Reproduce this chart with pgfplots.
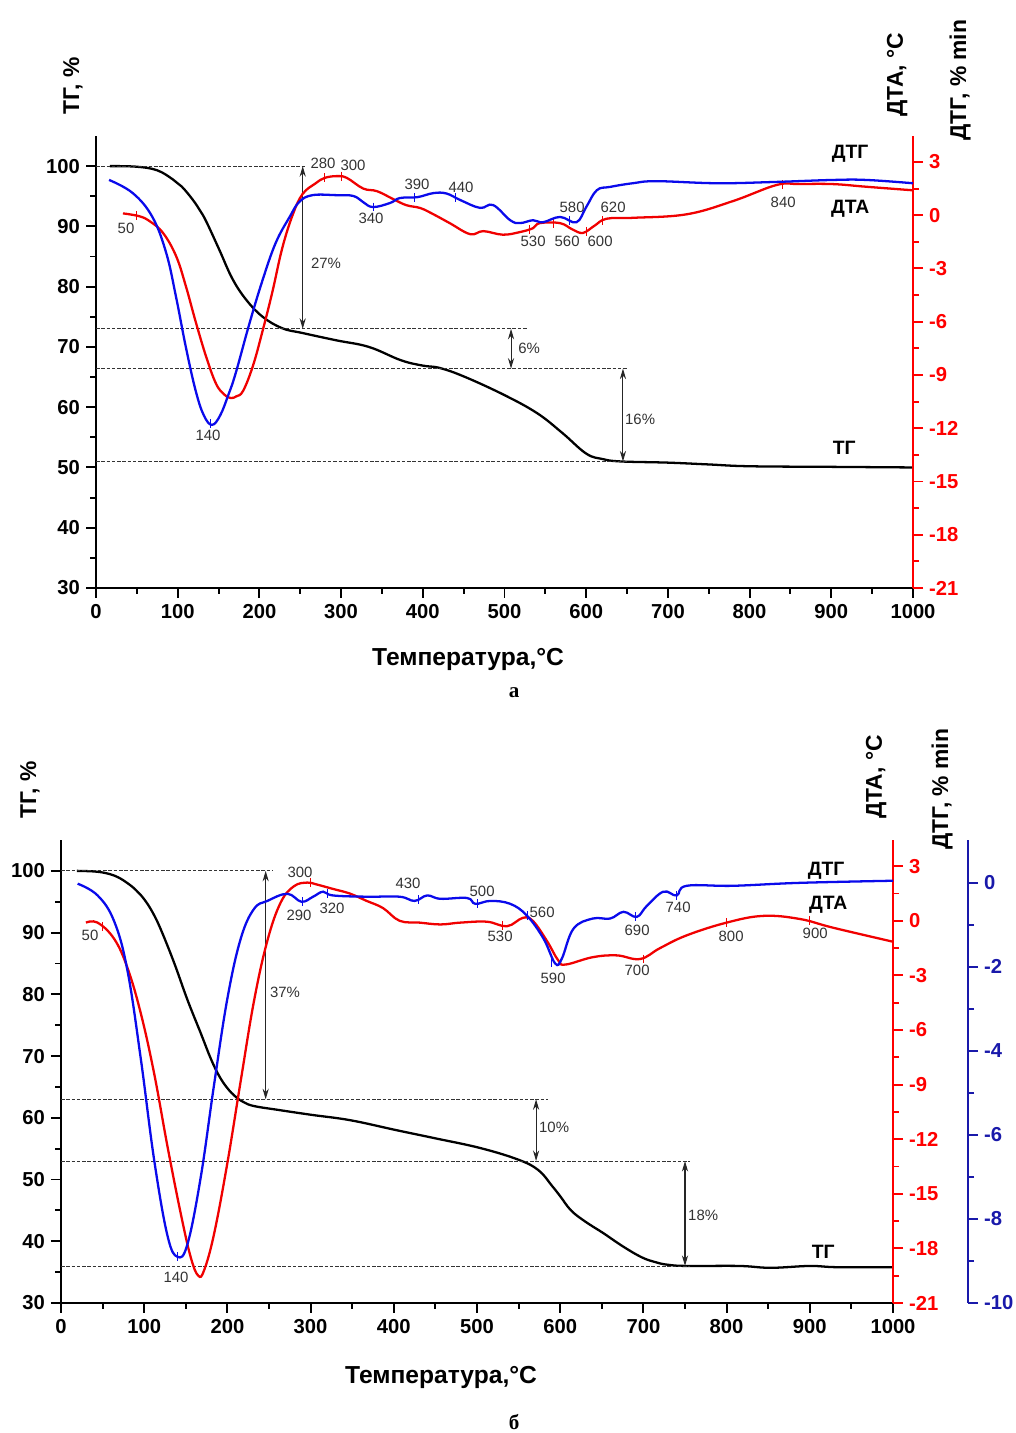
\documentclass[border=0pt]{standalone}
\usepackage{pgfplots}
\pgfplotsset{compat=1.18}
\usepackage{fontspec}
\setmainfont{Liberation Sans}
\newfontfamily\capfont{Liberation Serif}
\usetikzlibrary{arrows.meta}

\newcommand\tk{\bfseries\fontsize{11.5}{13}\selectfont}
\newcommand\an{\fontsize{8.5}{10}\selectfont\color{black!80}}
\newcommand\lb{\bfseries\fontsize{13}{15}\selectfont}
\definecolor{axblue}{RGB}{25,25,170}
\definecolor{cblue}{RGB}{10,10,235}
\definecolor{cred}{RGB}{240,0,0}

\tikzset{
  lev/.style={black!80, line width=0.5pt, dash pattern=on 2pt off 1pt},
  arr/.style={black!85, line width=0.6pt, <->},
}

\pgfplotsset{
  every axis/.append style={
    scale only axis, xmin=0, xmax=1000,
    tick align=outside,
    major tick length=0.2cm, minor tick length=0.12cm,
    tick style={line width=1.1pt},
    ticklabel style={font=\tk},
    /pgf/number format/assume math mode=true,
    /pgf/number format/set thousands separator={},
    clip=false,
  },
  tgax/.style={axis x line*=bottom, axis y line*=left, ymin=30, ymax=105,
    xtick={0,100,...,1000}, minor x tick num=1,
    ytick={30,40,...,100}, minor y tick num=1,
    axis line style={line width=1.6pt}, tick style={black}},
  dtaax/.style={hide x axis, axis y line*=right, ymin=-21,
    ytick={-21,-18,...,3}, minor y tick num=1,
    y axis line style={red, line width=1.6pt}, ytick style={red},
    yticklabel style={red}},
  dtgax/.style={hide x axis, axis y line*=right, ymin=-10,
    ytick={-10,-8,...,0}, minor y tick num=1,
    y axis line style={axblue, line width=1.6pt}, ytick style={axblue},
    yticklabel style={axblue}},
  tgc/.style={black, line width=1.3pt, smooth, tension=0.65},
  dtac/.style={cred, line width=1.3pt, smooth, tension=0.65},
  dtgc/.style={cblue, line width=1.3pt, smooth, tension=0.65},
  pk/.style={only marks, mark=|, mark size=2.5pt, line width=0.5pt},
}

\begin{document}
\begin{tikzpicture}[>={Stealth[length=6pt,width=3.5pt]}]
\useasboundingbox (0,0) rectangle (20.32cm,28.66cm);

% ---------------- panel a ----------------
\begin{axis}[tgax, at={(1.92cm,16.9cm)}, anchor=south west, width=16.34cm, height=9.04cm]
\addplot[tgc] coordinates {(17,100)(50,99.9)(75,99.3)(94,97.8)(105,96.6)(118,94.5)(127,92.7)(135,90.8)(151,86.1)(167,81.3)(184,77.8)(204,75)(228,73.1)(253,72.3)(294,71.1)(334,70)(373,67.8)(400,66.9)(421,66.5)(452,65)(500,62)(540,59)(571,55.7)(600,52.3)(620,51.4)(642,51)(700,50.8)(750,50.5)(800,50.2)(900,50.1)(1000,50)};
\draw[lev] (axis cs:0,100) -- (axis cs:256,100);
\draw[lev] (axis cs:0,73) -- (axis cs:528,73);
\draw[lev] (axis cs:0,66.4) -- (axis cs:650,66.4);
\draw[lev] (axis cs:0,51) -- (axis cs:650,51);
\draw[arr] (axis cs:253,100) -- (axis cs:253,73);
\draw[arr] (axis cs:508,73) -- (axis cs:508,66.4);
\draw[arr] (axis cs:645,66.4) -- (axis cs:645,51);
\end{axis}

\begin{axis}[dtaax, at={(1.92cm,16.9cm)}, anchor=south west, width=16.34cm, height=9.04cm, ymax=4.46]
\addplot[dtac] coordinates {(33,0.1)(53,-0.06)(66,-0.35)(82,-1.0)(98,-2.3)(110,-4.0)(122,-6.0)(135,-8.0)(147,-9.5)(157,-10.1)(165,-10.3)(172,-10.2)(180,-9.9)(192,-8.5)(204,-6.5)(216,-4.3)(228,-1.85)(241,0.05)(253,1.2)(269,1.8)(280,2.1)(295,2.2)(307,2.1)(327,1.5)(344,1.35)(364,0.9)(380,0.56)(397,0.4)(413,0.05)(433,-0.45)(458,-1.07)(474,-0.9)(498,-1.1)(519,-0.95)(535,-0.73)(543,-0.45)(568,-0.45)(583,-0.8)(596,-1.0)(610,-0.6)(625,-0.2)(657,-0.15)(723,0.05)(780,0.8)(833,1.7)(861,1.75)(902,1.75)(943,1.6)(1000,1.4)};
\addplot[pk, cred] coordinates {(50,-0.03)(280,2.1)(300,2.2)(530,-0.8)(560,-0.45)(600,-0.9)(620,-0.3)(840,1.72)};
\end{axis}

\begin{axis}[hide axis, at={(1.92cm,16.9cm)}, anchor=south west, width=16.34cm, height=9.04cm, ymin=-10, ymax=1]
\addplot[dtgc] coordinates {(16,-0.07)(45,-0.39)(69,-0.97)(86,-1.85)(98,-2.92)(110,-4.14)(122,-5.2)(132,-5.8)(142,-6.03)(152,-5.8)(162,-5.3)(171,-4.77)(188,-3.55)(204,-2.5)(220,-1.6)(237,-0.97)(249,-0.6)(265,-0.44)(294,-0.44)(315,-0.46)(327,-0.61)(339,-0.73)(360,-0.63)(372,-0.51)(393,-0.49)(413,-0.39)(429,-0.4)(446,-0.56)(470,-0.75)(486,-0.68)(507,-1.05)(519,-1.12)(535,-1.05)(547,-1.1)(568,-0.97)(588,-1.1)(600,-0.73)(613,-0.32)(629,-0.24)(657,-0.15)(686,-0.1)(760,-0.15)(829,-0.12)(902,-0.07)(943,-0.07)(1000,-0.15)};
\addplot[pk, cblue] coordinates {(140,-6.0)(340,-0.73)(390,-0.49)(440,-0.5)(580,-1.05)};
\end{axis}

% ---------------- panel b ----------------
\begin{axis}[tgax, at={(1.22cm,2.6cm)}, anchor=south west, width=16.64cm, height=9.26cm]
\addplot[tgc] coordinates {(19,100)(40,99.9)(55,99.6)(68,99.0)(80,98.0)(90,96.9)(100,95.4)(110,93.3)(120,90.5)(136,85.1)(152,79.1)(168,73.7)(180,69.6)(190,66.8)(200,64.8)(210,63.4)(220,62.5)(232,61.9)(260,61.3)(300,60.5)(348,59.6)(403,58)(449,56.7)(504,55.1)(550,53.2)(574,51.5)(590,49)(600,47.3)(613,45)(630,43.2)(652,41.3)(675,39.2)(698,37.4)(715,36.6)(729,36.2)(752,36)(815,36)(853,35.7)(900,36)(933,35.8)(1000,35.8)};
\draw[lev] (axis cs:0,100) -- (axis cs:255,100);
\draw[lev] (axis cs:0,63) -- (axis cs:585,63);
\draw[lev] (axis cs:0,53) -- (axis cs:756,53);
\draw[lev] (axis cs:0,36) -- (axis cs:756,36);
\draw[arr] (axis cs:246,100) -- (axis cs:246,63);
\draw[arr] (axis cs:571,63) -- (axis cs:571,53);
\draw[arr] (axis cs:750,53) -- (axis cs:750,36);
\end{axis}

\begin{axis}[dtaax, at={(1.22cm,2.6cm)}, anchor=south west, width=16.64cm, height=9.26cm, ymax=4.44]
\addplot[dtac] coordinates {(30,-0.1)(44,-0.1)(64,-1.0)(80,-2.6)(96,-5.1)(112,-8.4)(128,-12.4)(144,-16.1)(156,-18.5)(165,-19.5)(172,-19.2)(184,-17.2)(200,-13.3)(216,-8.8)(232,-4.4)(248,-1.1)(264,1.0)(280,1.9)(296,2.1)(307,2.0)(327,1.75)(347,1.5)(367,1.1)(387,0.7)(407,0.0)(431,-0.1)(456,-0.2)(480,-0.1)(512,-0.05)(536,-0.3)(555,0.16)(567,0)(584,-1.1)(598,-2.2)(607,-2.4)(639,-2.0)(668,-1.9)(696,-2.1)(720,-1.5)(752,-0.8)(800,-0.1)(844,0.27)(888,0.1)(928,-0.38)(1000,-1.15)};
\addplot[pk, cred] coordinates {(50,-0.3)(300,2.1)(530,-0.25)(700,-2.1)(800,-0.1)(900,0.0)};
\end{axis}

\begin{axis}[dtgax, at={(1.22cm,2.6cm)}, anchor=south west, width=18.14cm, height=9.26cm, xmax=1090.1, ymax=1.02]
\addplot[dtgc] coordinates {(20,-0.02)(44,-0.3)(64,-0.92)(80,-2.1)(96,-4.2)(112,-6.6)(128,-8.4)(140,-8.9)(152,-8.6)(168,-7.0)(184,-4.8)(200,-2.75)(216,-1.33)(232,-0.62)(248,-0.43)(272,-0.26)(289,-0.45)(303,-0.33)(315,-0.21)(327,-0.3)(368,-0.33)(407,-0.33)(425,-0.43)(440,-0.3)(456,-0.38)(488,-0.36)(498,-0.5)(516,-0.43)(540,-0.5)(560,-0.78)(580,-1.33)(594,-1.92)(602,-1.8)(616,-1.09)(639,-0.85)(660,-0.85)(676,-0.69)(692,-0.81)(704,-0.55)(724,-0.21)(740,-0.3)(752,-0.07)(808,-0.07)(888,0.0)(1000,0.05)};
\addplot[pk, cblue] coordinates {(140,-8.9)(290,-0.45)(320,-0.25)(430,-0.4)(500,-0.5)(560,-0.78)(590,-1.9)(690,-0.8)(740,-0.3)};
\end{axis}

% ---------------- labels (pixel grid of the figure) ----------------
\begin{scope}[x=0.02cm, y=-0.02cm, shift={(0,28.66cm)}]
% panel a
\node[rotate=90] at (73,86) {\lb ТГ, \%};
\node[rotate=90] at (897,75) {\lb ДТА, °C};
\node[rotate=90] at (960,80) {\lb ДТГ, \% min};
\node at (468,659) {\bfseries\fontsize{14}{16}\selectfont Температура,°C};
\node at (514,693) {\capfont\bfseries\fontsize{12}{14}\selectfont а};
\node at (850,154) {\bfseries\fontsize{11}{13}\selectfont ДТГ};
\node at (850,209) {\bfseries\fontsize{11}{13}\selectfont ДТА};
\node at (844,448) {\bfseries\fontsize{11}{13}\selectfont ТГ};
\node at (323,163) {\an 280};
\node at (353,165) {\an 300};
\node at (371,218) {\an 340};
\node at (417,184) {\an 390};
\node at (461,187) {\an 440};
\node at (126,228) {\an 50};
\node at (208,435) {\an 140};
\node at (533,241) {\an 530};
\node at (567,241) {\an 560};
\node at (600,241) {\an 600};
\node at (572,207) {\an 580};
\node at (613,207) {\an 620};
\node at (783,202) {\an 840};
\node at (326,263) {\an 27\%};
\node at (529,348) {\an 6\%};
\node at (640,419) {\an 16\%};
% panel b
\node[rotate=90] at (30,790) {\lb ТГ, \%};
\node[rotate=90] at (876,777) {\lb ДТА, °C};
\node[rotate=90] at (942,789) {\lb ДТГ, \% min};
\node at (441,1377) {\bfseries\fontsize{14}{16}\selectfont Температура,°C};
\node at (514,1422) {\capfont\bfseries\fontsize{12}{14}\selectfont б};
\node at (826,871) {\bfseries\fontsize{11}{13}\selectfont ДТГ};
\node at (828,905) {\bfseries\fontsize{11}{13}\selectfont ДТА};
\node at (823,1252) {\bfseries\fontsize{11}{13}\selectfont ТГ};
\node at (300,872) {\an 300};
\node at (299,915) {\an 290};
\node at (332,908) {\an 320};
\node at (408,883) {\an 430};
\node at (482,891) {\an 500};
\node at (500,936) {\an 530};
\node at (542,912) {\an 560};
\node at (553,978) {\an 590};
\node at (637,930) {\an 690};
\node at (637,970) {\an 700};
\node at (678,907) {\an 740};
\node at (731,936) {\an 800};
\node at (815,933) {\an 900};
\node at (90,935) {\an 50};
\node at (176,1277) {\an 140};
\node at (285,992) {\an 37\%};
\node at (554,1127) {\an 10\%};
\node at (703,1215) {\an 18\%};
\end{scope}
\end{tikzpicture}
\end{document}
